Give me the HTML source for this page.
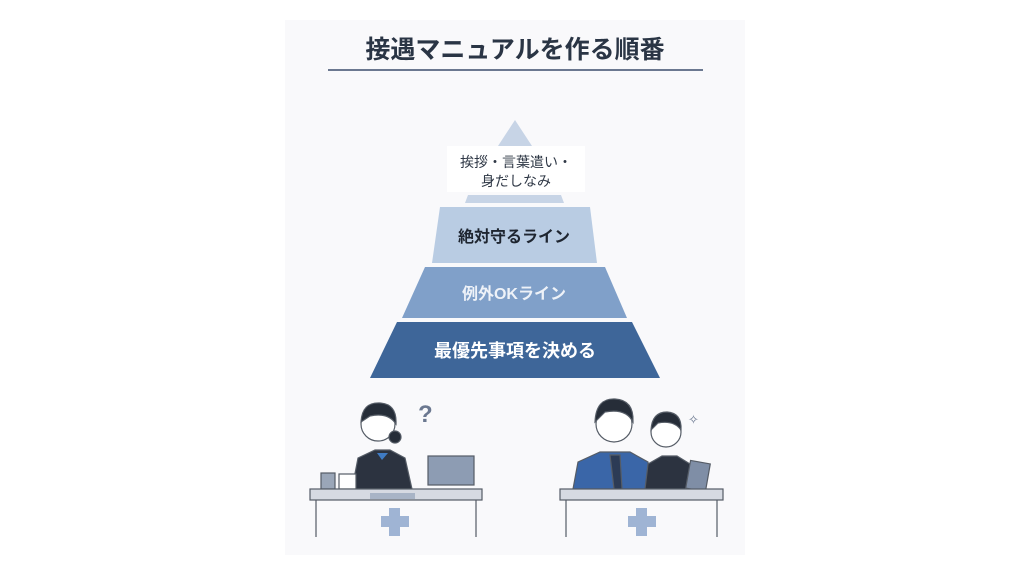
<!DOCTYPE html>
<html><head><meta charset="utf-8"><style>
body{margin:0;width:1024px;height:576px;background:#fff;overflow:hidden;position:relative;font-family:"Liberation Sans","Noto Sans CJK JP",sans-serif}
.panel{position:absolute;left:285px;top:20px;width:460px;height:535px;background:#f9f9fb}
.t{position:absolute;left:0;width:1024px;text-align:center}
</style></head><body>
<div class="panel"></div>
<div class="t" style="top:30px;left:3px;font-size:25px;font-weight:bold;color:#2a3545">接遇マニュアルを作る順番</div>
<div style="position:absolute;left:328px;top:69px;width:375px;height:1.5px;background:#6b7890"></div>
<svg width="1024" height="576" style="position:absolute;left:0;top:0">
<polygon points="515,120 532,146 498,146" fill="#c7d4e6"/>
<rect x="447" y="146" width="138" height="46" fill="#fff"/>
<polygon points="468,195 561,195 564,203 465,203" fill="#c7d4e6"/>
<polygon points="440,207 590,207 597,263 432,263" fill="#b9cce3"/>
<polygon points="425,267 605,267 627,318 402,318" fill="#80a0c9"/>
<polygon points="397,322 632,322 660,378 370,378" fill="#3e6699"/>
<text x="516" y="167" text-anchor="middle" font-size="14" fill="#2f3846">挨拶・言葉遣い・</text>
<text x="516" y="186" text-anchor="middle" font-size="14" fill="#2f3846">身だしなみ</text>
<text x="514" y="242" text-anchor="middle" font-size="16" font-weight="bold" fill="#1e2530">絶対守るライン</text>
<text x="514" y="299" text-anchor="middle" font-size="16" font-weight="bold" fill="#eef2f8">例外OKライン</text>
<text x="515" y="357" text-anchor="middle" font-size="18" font-weight="bold" fill="#fff">最優先事項を決める</text>
<g stroke="#555c66" stroke-width="1.2">
<path d="M352,489 L358,458 L375,450 L390,450 L405,458 L412,489Z" fill="#2c3340"/>
<circle cx="378" cy="424" r="17" fill="#fff"/>
<path d="M361,422 Q362,402 380,403 Q397,404 396,424 Q388,412 370,416Z" fill="#262d38"/>
<circle cx="395" cy="437" r="6" fill="#262d38"/>
<rect x="321" y="473" width="14" height="16" fill="#9aa6b8"/>
<rect x="339" y="474" width="17" height="15" fill="#fff"/>
<rect x="428" y="456" width="46" height="29" fill="#8d9cb3"/>
<rect x="310" y="489" width="172" height="11" fill="#d6dae2"/>
<rect x="370" y="493" width="45" height="6" fill="#a8b4c6" stroke="none"/>
<line x1="316" y1="500" x2="316" y2="537"/><line x1="476" y1="500" x2="476" y2="537"/>
</g>
<text x="418" y="422" font-size="24" font-weight="bold" fill="#6b7890">?</text>
<path d="M377,453 L382,460 L388,453Z" fill="#3f7bc4"/>
<rect x="389" y="508" width="11" height="28" fill="#9fb4d4"/><rect x="381" y="516" width="28" height="11" fill="#9fb4d4"/>
<g stroke="#555c66" stroke-width="1.2">
<path d="M573,489 L578,462 L600,452 L630,452 L648,462 L650,489Z" fill="#3a66a8"/>
<path d="M610,455 L614,489 L622,489 L620,455Z" fill="#2c3b55"/>
<circle cx="614" cy="424" r="18" fill="#fff"/>
<path d="M595,422 Q596,398 615,399 Q634,400 633,422 Q626,408 605,412Z" fill="#262d38"/>
<path d="M645,489 L648,464 L662,456 L677,456 L690,464 L692,489Z" fill="#2c3340"/>
<circle cx="666" cy="432" r="15" fill="#fff"/>
<path d="M651,430 Q652,412 667,412 Q682,413 681,430 Q674,420 658,423Z" fill="#262d38"/>
<rect x="688" y="462" width="20" height="28" fill="#7f8ea6" transform="rotate(10 698 476)"/>
<rect x="560" y="489" width="163" height="11" fill="#d6dae2"/>
<line x1="566" y1="500" x2="566" y2="537"/><line x1="717" y1="500" x2="717" y2="537"/>
</g>
<text x="688" y="424" font-size="13" fill="#6b7890">✧</text>
<rect x="636" y="508" width="11" height="28" fill="#9fb4d4"/><rect x="628" y="516" width="28" height="11" fill="#9fb4d4"/>
</svg>
</body></html>
